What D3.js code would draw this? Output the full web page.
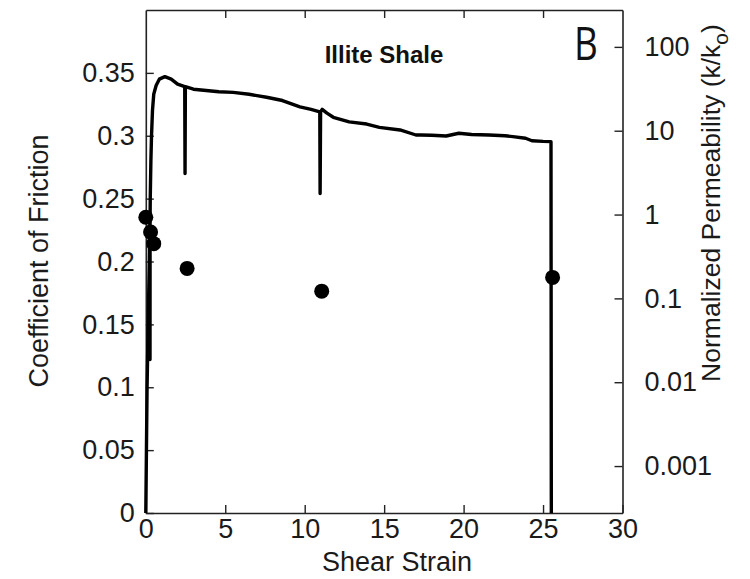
<!DOCTYPE html>
<html>
<head>
<meta charset="utf-8">
<script src="https://cdn.jsdelivr.net/npm/d3@7"></script>
<style>
  html, body { margin: 0; padding: 0; background: #fff; }
  svg { display: block; font-family: "Liberation Sans", Arial, Helvetica, sans-serif; }
</style>
</head>
<body>
<svg id="chart" width="750" height="579"></svg>
<script>
// ---- Data ----
// Friction curve: shear strain (x) and coefficient of friction (left axis)
const frictionStrain = [0, 0.04, 0.08, 0.15, 0.22, 0.26, 0.265, 0.27, 0.28, 0.32, 0.36, 0.42, 0.5, 0.65, 0.85, 1.2, 1.6, 2.0, 2.45, 2.47, 2.49,
  3.0, 3.8, 4.6, 5.5, 6.5, 7.6, 8.6, 9.7, 10.4, 10.95, 10.97, 11.0, 11.1, 11.4, 11.8, 12.8, 13.9, 14.7, 16.0, 17.0, 17.3, 18.0, 18.9, 19.7, 20.5, 21.6, 22.6, 23.1, 23.9, 24.3, 25.0, 25.5, 25.52];
const frictionValues = [0, 0.05, 0.1, 0.15, 0.2, 0.235, 0.122, 0.235, 0.25, 0.28, 0.3, 0.32, 0.333, 0.34, 0.345, 0.347, 0.345, 0.341, 0.339, 0.27, 0.339,
  0.337, 0.336, 0.335, 0.3345, 0.333, 0.3306, 0.328, 0.323, 0.321, 0.319, 0.254, 0.319, 0.321, 0.318, 0.3147, 0.311, 0.3093, 0.3067, 0.3046, 0.3006, 0.3006, 0.3004, 0.2998, 0.302, 0.301, 0.3006, 0.3, 0.2993, 0.298, 0.296, 0.2955, 0.2953, 0];

// Permeability measurements (right axis, log scale)
const permStrain = [0, 0.3, 0.5, 2.6, 11.07, 25.6];
const permValues = [0.93, 0.62, 0.45, 0.228, 0.122, 0.178];

// Tick values / labels
const xTicks = [0, 5, 10, 15, 20, 25, 30];
const xTopTicks = [5, 10, 15, 20, 25];
const leftTicks = [0, 0.05, 0.1, 0.15, 0.2, 0.25, 0.3, 0.35];
const leftLabels = ["0", "0.05", "0.1", "0.15", "0.2", "0.25", "0.3", "0.35"];
const rightTicks = [0.001, 0.01, 0.1, 1, 10, 100];
const rightLabels = ["0.001", "0.01", "0.1", "1", "10", "100"];

// ---- Layout ----
const L = 145.8, R = 622.5, T = 10, B = 513;
const svg = d3.select("#chart");
svg.append("rect").attr("width", 750).attr("height", 579).attr("fill", "#fff");

const x = d3.scaleLinear().domain([0, 30]).range([L, R]);
const yL = d3.scaleLinear().domain([0, 0.4]).range([B, T]);
const yR = d3.scaleLog().domain([Math.pow(10, -3.56), Math.pow(10, 2.44)]).range([B, T]);

const fs = 27;

function styleAxis(g) {
  g.selectAll("path.domain").attr("stroke", "#222").attr("stroke-width", 1.6);
  g.selectAll(".tick line").attr("stroke", "#222").attr("stroke-width", 1.4);
  g.selectAll(".tick text").attr("fill", "#1a1a1a").style("font-size", fs + "px")
    .style("font-family", '"Liberation Sans", Arial, sans-serif');
}

// Bottom axis
svg.append("g").attr("transform", `translate(0,${B})`)
  .call(d3.axisBottom(x).tickValues(xTicks).tickFormat(d3.format("d")).tickSizeInner(-8).tickSizeOuter(0).tickPadding(6))
  .call(styleAxis);
// Top axis
svg.append("g").attr("transform", `translate(0,${T})`)
  .call(d3.axisTop(x).tickValues(xTopTicks).tickFormat("").tickSizeInner(-8).tickSizeOuter(0))
  .call(styleAxis);
// Left axis
svg.append("g").attr("transform", `translate(${L},0)`)
  .call(d3.axisLeft(yL).tickValues(leftTicks).tickFormat((d, i) => leftLabels[i]).tickSizeInner(-8).tickSizeOuter(0).tickPadding(11))
  .call(styleAxis);
// Right axis
svg.append("g").attr("transform", `translate(${R},0)`)
  .call(d3.axisRight(yR).tickValues(rightTicks).tickFormat((d, i) => rightLabels[i]).tickSizeInner(-8).tickSizeOuter(0).tickPadding(22))
  .call(styleAxis);

// Friction curve
const pts = frictionStrain.map((s, i) => [s, frictionValues[i]]);
const line = d3.line().x(d => x(d[0])).y(d => yL(d[1]));
svg.append("path").datum(pts).attr("d", line)
  .attr("fill", "none").attr("stroke", "#000").attr("stroke-width", 3.4)
  .attr("stroke-linejoin", "round").attr("stroke-linecap", "butt");

// Permeability points
svg.append("g").selectAll("circle")
  .data(permStrain.map((s, i) => [s, permValues[i]]))
  .join("circle")
  .attr("cx", d => x(d[0])).attr("cy", d => yR(d[1])).attr("r", 7.5).attr("fill", "#000");

// Axis titles
svg.append("text").attr("transform", "translate(397,571)").attr("text-anchor", "middle")
  .style("font-size", fs + "px").attr("fill", "#1a1a1a").text("Shear Strain");
svg.append("text").attr("transform", "translate(48,261) rotate(-90)").attr("text-anchor", "middle")
  .style("font-size", fs + "px").attr("fill", "#1a1a1a").text("Coefficient of Friction");

const rt = svg.append("text").attr("transform", "translate(720,203) rotate(-90)").attr("text-anchor", "middle")
  .style("font-size", "26.5px").attr("fill", "#1a1a1a");
rt.append("tspan").text("Normalized Permeability (k/k");
rt.append("tspan").attr("dy", 8).style("font-size", "21px").text("o");
rt.append("tspan").attr("dy", -8).text(")");

// Annotations
svg.append("text").attr("x", 384).attr("y", 63).attr("text-anchor", "middle")
  .style("font-size", "24px").style("font-weight", "bold").attr("fill", "#111").text("Illite Shale");
svg.append("text").attr("transform", "translate(574,60) scale(0.82,1)")
  .style("font-family", '"Open Sans", sans-serif').style("font-size", "45px").style("font-weight", 400)
  .attr("fill", "#111").text("B");
</script>
</body>
</html>
